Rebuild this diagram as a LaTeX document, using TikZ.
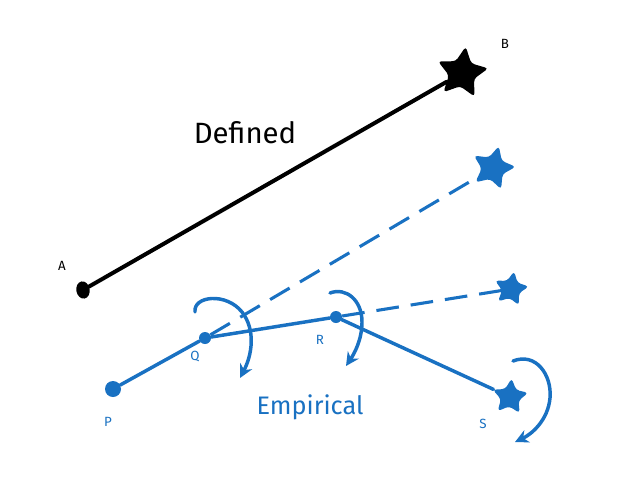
\documentclass[tikz,border=0pt]{standalone}
\usepackage{fontspec}
\setmainfont{Fira Sans}
\usetikzlibrary{shapes.geometric,arrows.meta}
\definecolor{exblue}{HTML}{1971C2}
\tikzset{
  dotnode/.style={circle,fill=exblue,inner sep=0pt,minimum size=#1},
  starnode/.style={star,star points=5,star point ratio=2.0,inner sep=0pt,minimum size=#1,rounded corners=2.5pt},
  lbl/.style={font=\fontsize{10}{11}\selectfont,inner sep=0pt},
  blueline/.style={draw=exblue,line width=2.6pt,line cap=round},
  dashline/.style={draw=exblue,line width=2.3pt,dash pattern=on 17pt off 9pt},
  turn/.style={draw=exblue,line width=2.6pt,line cap=round,-{Stealth[length=10pt,width=10pt]}}
}
\begin{document}
\begin{tikzpicture}[x=0.75pt,y=-0.75pt]
\useasboundingbox[fill=white] (0,0) rectangle (635,482);
% defined
\node[ellipse,fill=black,inner sep=0pt,minimum width=10pt,minimum height=13pt,rotate=10] (A) at (83,290) {};
\node[starnode=40pt,fill=black,rotate=-8] (B) at (462,73) {};
\draw[line width=3pt,line cap=round] (A) -- (B);
\node[lbl] (lA) at (62,266) {A};
\node[lbl] (lB) at (505,44) {B};
\node[font=\fontsize{22}{26}\selectfont] (def) at (245,133) {Defined};
% empirical
\node[dotnode=12pt] (P) at (113,389) {};
\node[dotnode=9pt] (Q) at (205,338) {};
\node[dotnode=9pt] (R) at (336,317) {};
\node[starnode=34pt,fill=exblue,rotate=-15] (S1) at (493,168) {};
\node[starnode=27pt,fill=exblue,rotate=-10] (S2) at (511,289) {};
\node[starnode=28pt,fill=exblue,rotate=-5] (S) at (510,397) {};
\draw[blueline] (P) -- (Q);
\draw[blueline] (Q) -- (R);
\draw[blueline] (R) -- (S);
\draw[dashline] (Q) -- (S1);
\draw[dashline] (R) -- (S2);
\node[lbl,text=exblue] (lP) at (108,422) {P};
\node[lbl,text=exblue] (lQ) at (195,357) {Q};
\node[lbl,text=exblue] (lR) at (320,340) {R};
\node[lbl,text=exblue] (lS) at (483,424) {S};
\node[font=\fontsize{19}{23}\selectfont,text=exblue] (emp) at (310,407) {Empirical};
% turning arrows
\draw[turn] (195,312) .. controls (193,296) and (226,292) .. (242,312) .. controls (256,330) and (252,355) .. (240,378);
\draw[turn] (330,293) .. controls (346,287) and (362,300) .. (362,322) .. controls (362,340) and (354,354) .. (346,366);
\draw[turn] (513,361) .. controls (536,352) and (552,375) .. (550,398) .. controls (548,420) and (532,434) .. (515,442);
\end{tikzpicture}
\end{document}
